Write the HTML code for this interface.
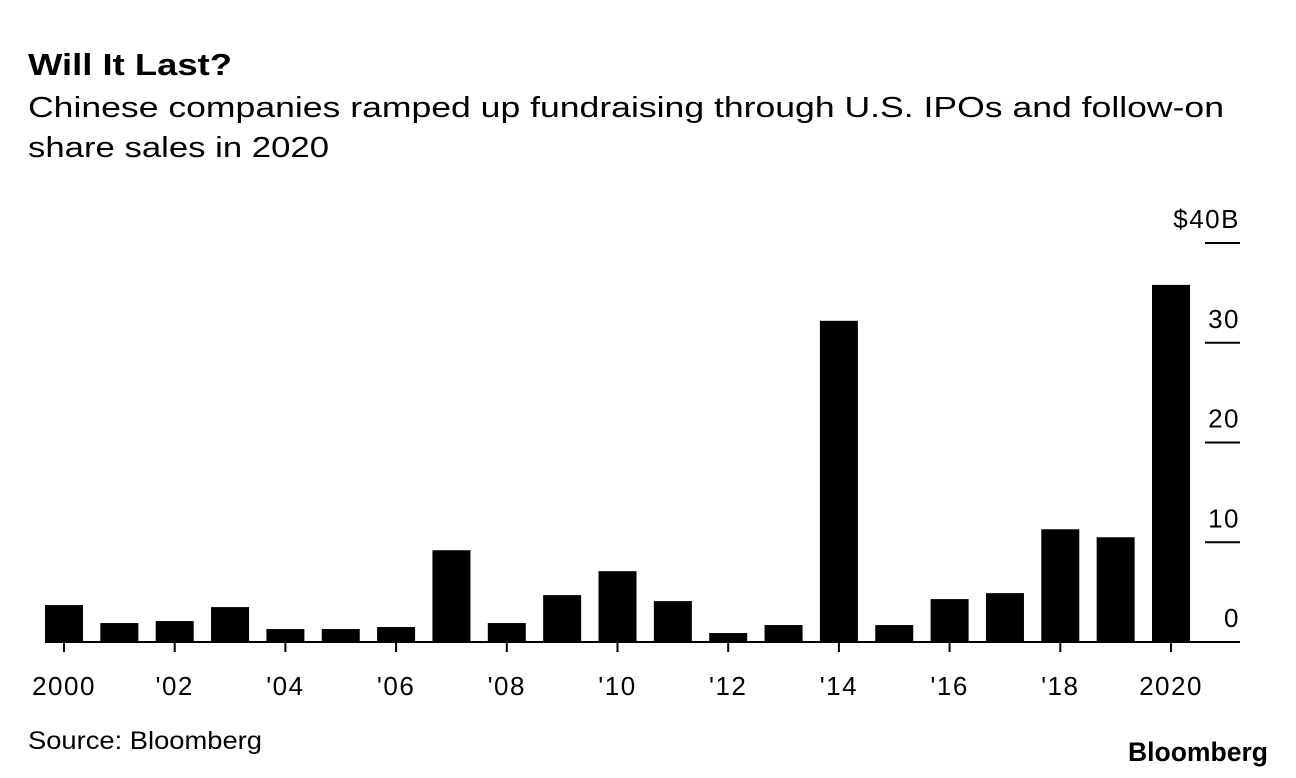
<!DOCTYPE html>
<html><head><meta charset="utf-8"><style>
body{margin:0;background:#fff;}
svg{display:block;font-family:"Liberation Sans",Arial,sans-serif;}
</style></head><body>
<svg id="chart" width="1296" height="778">
<text x="28" y="75" font-size="31" font-weight="bold" textLength="204" lengthAdjust="spacingAndGlyphs">Will It Last?</text>
<text x="28" y="117" font-size="29" textLength="1196" lengthAdjust="spacingAndGlyphs">Chinese companies ramped up fundraising through U.S. IPOs and follow-on</text>
<text x="28" y="157" font-size="29" textLength="301" lengthAdjust="spacingAndGlyphs">share sales in 2020</text>
<g id="bars"></g>
<g id="axes"></g>
<text x="28" y="749" font-size="25" textLength="234" lengthAdjust="spacingAndGlyphs">Source: Bloomberg</text>
<text x="1268" y="761" font-size="27" font-weight="bold" text-anchor="end" textLength="140" lengthAdjust="spacingAndGlyphs">Bloomberg</text>
</svg>
<script>
const years=[2000,2001,2002,2003,2004,2005,2006,2007,2008,2009,2010,2011,2012,2013,2014,2015,2016,2017,2018,2019,2020];
const values=[3.7,1.9,2.1,3.5,1.3,1.3,1.5,9.2,1.9,4.7,7.1,4.1,0.9,1.7,32.2,1.7,4.3,4.9,11.3,10.5,35.8];
const yTicks=[0,10,20,30,40];
const yTickLabels=["0","10","20","30","$40B"];
const xTickYears=[2000,2002,2004,2006,2008,2010,2012,2014,2016,2018,2020];
const xTickLabels=["2000","'02","'04","'06","'08","'10","'12","'14","'16","'18","2020"];
const NS="http://www.w3.org/2000/svg";
const y0=642, pxPerUnit=9.975, barW=38, step=55.35, x0=45;
function yScale(v){return y0-v*pxPerUnit;}
function xScale(yr){return x0+(yr-years[0])*step;}
function mk(tag,attrs,parent){const e=document.createElementNS(NS,tag);for(const k in attrs)e.setAttribute(k,attrs[k]);parent.appendChild(e);return e;}
const bars=document.getElementById('bars'), axes=document.getElementById('axes');
years.forEach((yr,i)=>{
  const r=mk('rect',{x:xScale(yr),y:yScale(values[i]),width:barW,height:y0-yScale(values[i]),fill:'#000'},bars);
  
  
});
const base=mk('line',{x1:45,x2:1240,y1:y0,y2:y0,stroke:'#000','stroke-width':2},axes);


xTickYears.forEach((yr,i)=>{
  const cx=xScale(yr)+barW/2;
  const t=mk('line',{x1:cx,x2:cx,y1:y0,y2:y0+10,stroke:'#000','stroke-width':2},axes);
  
  
  const l=mk('text',{x:cx,y:695,'font-size':26,'text-anchor':'middle','letter-spacing':1.5},axes);
  l.textContent=xTickLabels[i];
  
  
});
yTicks.forEach((v,i)=>{
  const yy=yScale(v);
  if(v>0){
    const t=mk('line',{x1:1205,x2:1240,y1:yy,y2:yy,stroke:'#000','stroke-width':2},axes);
    
    
  }
  const l=mk('text',{x:1240,y:yy-15,'font-size':26,'text-anchor':'end','letter-spacing':1.5},axes);
  l.textContent=yTickLabels[i];
  
  
});
</script>
</body></html>
